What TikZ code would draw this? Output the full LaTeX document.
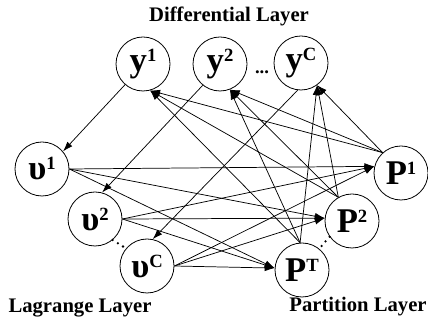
\documentclass[tikz,border=0pt]{standalone}
\usepackage{fontspec}
\setmainfont{Liberation Serif}
\usetikzlibrary{arrows.meta}
\newcommand\sx[1]{\raisebox{7.5pt}{\fontsize{14}{14}\selectfont #1}}
\tikzset{
 nd/.style={circle, draw, line width=0.6pt, minimum size=40.5pt, inner sep=0pt,
   font=\fontsize{26}{26}\selectfont\bfseries},
 ar/.style={-{Latex[length=7.5pt,width=5pt]}, line width=0.55pt},
 dotl/.style={line width=1.9pt, line cap=round, dash pattern=on 0pt off 4.6pt},
 lay/.style={font=\fontsize{15.5}{15.5}\selectfont\bfseries, inner sep=0pt, anchor=base},
}
\begin{document}
\begin{tikzpicture}[x=0.75pt,y=-0.75pt]
\useasboundingbox (0,0) rectangle (428,323);
% differential layer
\node[nd] (y1) at (143,64) {y\sx{1}};
\node[nd] (y2) at (220,64) {y\sx{2}};
\node[nd] (yC) at (301,63) {y\sx{C}};
% lagrange layer
\node[nd] (u1) at (42,169) {υ\sx{1}};
\node[nd] (u2) at (95,219) {υ\sx{2}};
\node[nd] (uC) at (147,266) {υ\sx{C}};
% partition layer
\node[nd] (p1) at (401,173) {P\sx{1}};
\node[nd] (p2) at (352,221) {P\sx{2}};
\node[nd] (pT) at (302,270) {P\sx{T}};
% layer titles
\node[lay] (tD) at (229,22) {Differential Layer};
\node[lay] (tL) at (80,313) {Lagrange Layer};
\node[lay] (tP) at (358,312) {Partition Layer};
\node[font=\fontsize{14}{14}\selectfont\bfseries, inner sep=0pt, anchor=base] (dd) at (262,74) {...};
% y -> upsilon
\draw[ar] (y1.229) -- (u1.40);
\draw[ar] (y2.231) -- (u2.75);
\draw[ar] (yC.263) -- (uC.78);
% P -> y
\foreach \p/\a in {p1/132, p2/120, pT/94}{
  \foreach \y/\b in {y1/-75, y2/-69, yC/-54}{
    \draw[ar] (\p.\a) -- (\y.\b);
  }
}
% upsilon -> P
\foreach \u in {u1,u2,uC}{
  \foreach \p/\b in {p1/166, p2/174, pT/176}{
    \draw[ar] (\u.east) -- (\p.\b);
  }
}
% dotted continuations
\draw[dotl] (u2.-50) -- (uC.140);
\draw[dotl] (p2.215) -- (pT.51);
\end{tikzpicture}
\end{document}
